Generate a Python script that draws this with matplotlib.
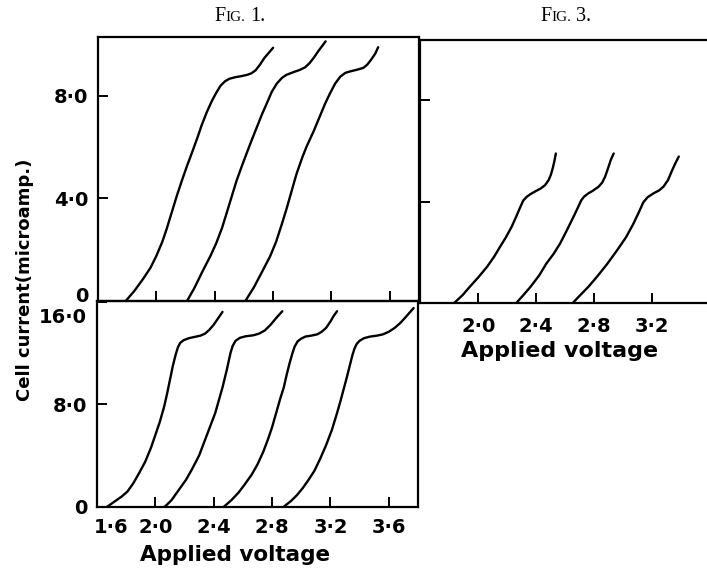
import matplotlib
matplotlib.use("Agg")
import matplotlib.pyplot as plt
from matplotlib.transforms import ScaledTranslation

# ---------------- data (applied voltage, cell current in microamp) ----------------
# Fig. 1, upper panel
a_v = [1.79, 1.85, 1.91, 1.96, 2.00, 2.04, 2.07, 2.105, 2.14, 2.175, 2.21, 2.245, 2.28, 2.31,
       2.345, 2.38, 2.41, 2.44, 2.47, 2.50, 2.54, 2.58, 2.62, 2.65, 2.68, 2.71, 2.74, 2.77, 2.80]
a_i = [0.00, 0.40, 0.87, 1.30, 1.76, 2.30, 2.80, 3.45, 4.10, 4.70, 5.27, 5.80, 6.35, 6.85,
       7.36, 7.80, 8.12, 8.40, 8.57, 8.67, 8.73, 8.77, 8.82, 8.88, 9.00, 9.22, 9.48, 9.68, 9.88]
b_v = [2.21, 2.26, 2.32, 2.37, 2.41, 2.45, 2.48, 2.515, 2.55, 2.585, 2.62, 2.655, 2.69, 2.725,
       2.76, 2.79, 2.825, 2.86, 2.89, 2.94, 2.985, 3.02, 3.05, 3.08, 3.11, 3.16]
b_i = [0.00, 0.50, 1.20, 1.75, 2.25, 2.85, 3.40, 4.05, 4.70, 5.25, 5.78, 6.30, 6.80, 7.30,
       7.75, 8.15, 8.48, 8.70, 8.82, 8.93, 9.02, 9.12, 9.28, 9.50, 9.75, 10.13]
c_v = [2.61, 2.67, 2.73, 2.78, 2.82, 2.86, 2.895, 2.93, 2.96, 3.00, 3.03, 3.08, 3.12, 3.155,
       3.19, 3.225, 3.26, 3.295, 3.33, 3.38, 3.42, 3.445, 3.47, 3.50, 3.52]
c_i = [0.00, 0.55, 1.20, 1.75, 2.30, 3.00, 3.65, 4.35, 4.95, 5.60, 6.03, 6.65, 7.20, 7.68,
       8.10, 8.48, 8.75, 8.90, 8.96, 9.03, 9.10, 9.22, 9.40, 9.65, 9.90]

# Fig. 1, lower panel
d_v = [1.67, 1.72, 1.77, 1.81, 1.85, 1.89, 1.93, 1.97, 2.00, 2.03, 2.06, 2.08, 2.10, 2.12,
       2.14, 2.155, 2.17, 2.195, 2.23, 2.27, 2.31, 2.34, 2.37, 2.40, 2.43, 2.46]
d_i = [0.00, 0.40, 0.80, 1.20, 1.85, 2.65, 3.50, 4.60, 5.60, 6.60, 7.80, 8.80, 9.90, 11.00,
       11.90, 12.45, 12.78, 13.00, 13.15, 13.25, 13.35, 13.50, 13.80, 14.20, 14.70, 15.20]
e_v = [2.065, 2.11, 2.16, 2.21, 2.25, 2.30, 2.34, 2.38, 2.41, 2.44, 2.46, 2.49, 2.515, 2.53,
       2.55, 2.58, 2.62, 2.67, 2.71, 2.75, 2.79, 2.83, 2.87]
e_i = [0.00, 0.50, 1.30, 2.10, 2.90, 4.00, 5.20, 6.40, 7.30, 8.50, 9.30, 10.70, 12.00, 12.55,
       12.95, 13.18, 13.30, 13.37, 13.50, 13.75, 14.20, 14.75, 15.25]
f_v = [2.47, 2.52, 2.57, 2.61, 2.66, 2.70, 2.74, 2.77, 2.80, 2.83, 2.855, 2.88, 2.90, 2.92,
       2.94, 2.955, 2.975, 3.00, 3.03, 3.07, 3.11, 3.14, 3.17, 3.20, 3.22, 3.245]
f_i = [0.00, 0.50, 1.10, 1.70, 2.50, 3.30, 4.30, 5.20, 6.20, 7.40, 8.40, 9.30, 10.30, 11.20,
       12.00, 12.50, 12.90, 13.12, 13.28, 13.35, 13.45, 13.65, 13.95, 14.45, 14.85, 15.25]
g_v = [2.88, 2.93, 2.97, 3.01, 3.05, 3.09, 3.13, 3.17, 3.21, 3.245, 3.27, 3.29, 3.31, 3.33,
       3.35, 3.365, 3.38, 3.40, 3.43, 3.47, 3.52, 3.56, 3.60, 3.64, 3.68, 3.72, 3.77]
g_i = [0.00, 0.45, 0.90, 1.45, 2.10, 2.80, 3.75, 4.80, 6.00, 7.30, 8.30, 9.15, 10.00, 10.90,
       11.80, 12.35, 12.70, 12.95, 13.15, 13.27, 13.35, 13.45, 13.65, 13.95, 14.35, 14.85, 15.50]

# Fig. 3
h_v = [1.83, 1.89, 1.94, 2.00, 2.06, 2.11, 2.15, 2.19, 2.23, 2.26, 2.29, 2.31, 2.335, 2.36,
       2.39, 2.43, 2.46, 2.485, 2.50, 2.515, 2.525, 2.535]
h_i = [0.00, 0.32, 0.65, 1.03, 1.44, 1.85, 2.23, 2.60, 3.02, 3.40, 3.80, 4.05, 4.20, 4.30,
       4.40, 4.52, 4.65, 4.85, 5.05, 5.35, 5.60, 5.90]
j_v = [2.26, 2.31, 2.36, 2.42, 2.47, 2.52, 2.565, 2.60, 2.635, 2.665, 2.69, 2.71, 2.73, 2.76,
       2.79, 2.83, 2.855, 2.875, 2.895, 2.915, 2.935]
j_i = [0.00, 0.32, 0.65, 1.10, 1.57, 1.95, 2.36, 2.75, 3.15, 3.50, 3.80, 4.05, 4.20, 4.33,
       4.43, 4.59, 4.75, 4.98, 5.30, 5.65, 5.90]
k_v = [2.65, 2.70, 2.76, 2.82, 2.89, 2.96, 3.02, 3.07, 3.11, 3.14, 3.17, 3.21, 3.25, 3.28,
       3.31, 3.34, 3.36, 3.385]
k_i = [0.00, 0.30, 0.65, 1.05, 1.55, 2.10, 2.60, 3.12, 3.60, 3.98, 4.18, 4.33, 4.45, 4.60,
       4.85, 5.25, 5.50, 5.78]

# tick labels
x_ticks_lower = [1.6, 2.0, 2.4, 2.8, 3.2, 3.6]
x_labels_lower = ["1·6", "2·0", "2·4", "2·8", "3·2", "3·6"]
y_ticks_upper = [0, 4, 8]
y_labels_upper = ["0", "4·0", "8·0"]
y_ticks_lower = [0, 8, 16]
y_labels_lower = ["0", "8·0", "16·0"]
x_ticks_fig3 = [2.0, 2.4, 2.8, 3.2]
x_labels_fig3 = ["2·0", "2·4", "2·8", "3·2"]

# ---------------- figure ----------------
W, H = 707, 570
fig = plt.figure(figsize=(W / 100, H / 100), dpi=100)
fig.patch.set_facecolor("white")

def rect(l, t, r, b):
    return [l / W, 1 - b / H, (r - l) / W, (b - t) / H]

LW = 1.7
FONT = "DejaVu Sans"
TFS = 14

ax1 = fig.add_axes(rect(98, 37, 419, 301))
ax2 = fig.add_axes(rect(97, 301, 418, 506.7))
ax3 = fig.add_axes(rect(420, 40, 707, 303.3))

for ax in (ax1, ax2, ax3):
    for s in ax.spines.values():
        s.set_linewidth(1.6)
        s.set_color("black")
    ax.tick_params(direction="in", length=7, width=1.4, colors="black",
                   labelsize=TFS)
    ax.set_facecolor("none")

# upper panel
for v, i in ((a_v, a_i), (b_v, b_i), (c_v, c_i)):
    ax1.plot(v, i, color="black", lw=LW, solid_capstyle="round", solid_joinstyle="round")
ax1.set_xlim(1.6, 3.8)
ax1.set_ylim(0, 10.3)
ax1.set_xticks([2.0, 2.4, 2.8, 3.2, 3.6])
ax1.set_xticklabels([])
ax1.set_yticks(y_ticks_upper)
ax1.set_yticklabels(y_labels_upper, fontweight="bold", family=FONT)
ax1.tick_params(axis="y", pad=7)

# lower panel
for v, i in ((d_v, d_i), (e_v, e_i), (f_v, f_i), (g_v, g_i)):
    ax2.plot(v, i, color="black", lw=LW, solid_capstyle="round", solid_joinstyle="round")
ax2.set_xlim(1.6, 3.8)
ax2.set_ylim(0, 16.05)
ax2.set_xticks(x_ticks_lower)
ax2.set_xticklabels(x_labels_lower, fontweight="bold", family=FONT)
ax2.set_yticks(y_ticks_lower)
ax2.set_yticklabels(y_labels_lower, fontweight="bold", family=FONT)
ax2.tick_params(axis="y", pad=7)
ax2.tick_params(axis="x", pad=8)

# Fig. 3 panel
for v, i in ((h_v, h_i), (j_v, j_i), (k_v, k_i)):
    ax3.plot(v, i, color="black", lw=LW, solid_capstyle="round", solid_joinstyle="round")
ax3.set_xlim(1.596, 3.58)
ax3.set_ylim(0, 10.37)
ax3.spines["right"].set_visible(False)
ax3.set_xticks(x_ticks_fig3)
ax3.set_xticklabels(x_labels_fig3, fontweight="bold", family=FONT)
ax3.set_yticks([4, 8])
ax3.set_yticklabels([])
ax3.tick_params(axis="x", pad=10)

# axis titles
fig.text(235 / W, 1 - 555 / H, "Applied voltage", ha="center", va="center",
         fontsize=15.5, fontweight="bold", family=FONT)
fig.text(560 / W, 1 - 351 / H, "Applied voltage", ha="center", va="center",
         fontsize=16, fontweight="bold", family=FONT)
fig.text(25 / W, 1 - 280 / H, "Cell current(microamp.)", rotation=90,
         ha="center", va="center", fontsize=13, fontweight="bold", family=FONT)

# label nudges (as in the printed figure)
fig.canvas.draw()
lbl_up = ax1.get_yticklabels()
lbl_up[0].set_transform(lbl_up[0].get_transform() + ScaledTranslation(0, 6 / 100, fig.dpi_scale_trans))
lbl_lo = ax2.get_yticklabels()
lbl_lo[2].set_transform(lbl_lo[2].get_transform() + ScaledTranslation(0, -14 / 100, fig.dpi_scale_trans))
xl = ax2.get_xticklabels()
xl[0].set_ha("left")
xl[0].set_transform(xl[0].get_transform() + ScaledTranslation(-3 / 100, 0, fig.dpi_scale_trans))

# small-caps style headings
def heading(cx, base_y, num):
    parts = [("F", 14.5), ("IG.", 11), (num + ".", 14.5)]
    texts = [fig.text(0, 1 - base_y / H, s, fontsize=fs, family="Liberation Serif",
                      va="baseline", ha="left") for s, fs in parts]
    r = fig.canvas.get_renderer()
    widths = [t.get_window_extent(r).width for t in texts]
    gap = 5
    total = sum(widths) + gap
    x = cx - total / 2
    for k, (t, w) in enumerate(zip(texts, widths)):
        t.set_x(x / W)
        x += w + (gap if k == 1 else 0)

heading(240, 21, "1")
heading(566, 21, "3")

fig.savefig("out.png", dpi=100, facecolor="white")
